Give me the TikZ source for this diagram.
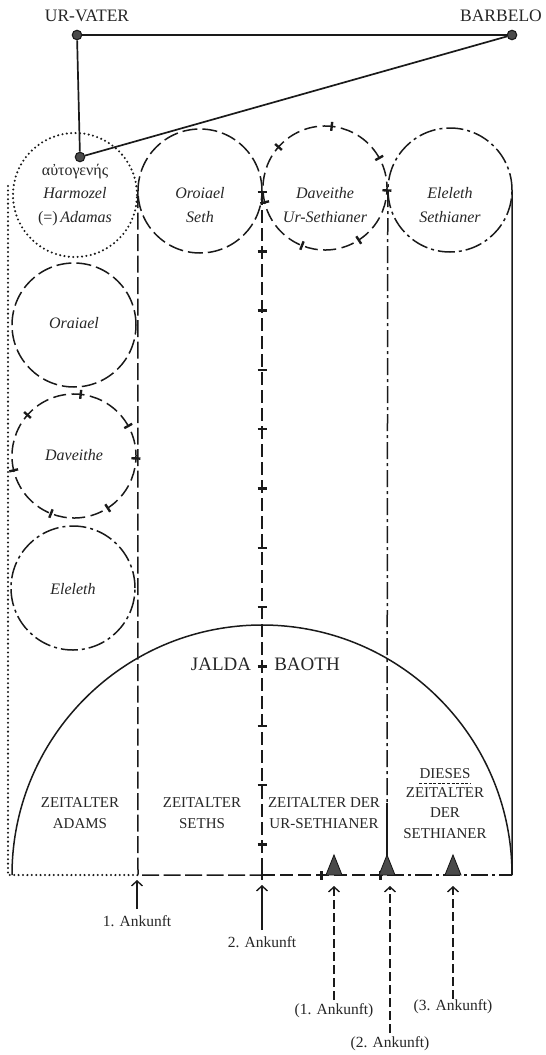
\documentclass[tikz,border=0pt]{standalone}
\usepackage{fontspec}
\setmainfont{Liberation Serif}
\usetikzlibrary{decorations.markings,arrows.meta}
\definecolor{ink}{HTML}{1A1A1A}
\definecolor{txt}{HTML}{262626}
\definecolor{knotfill}{HTML}{4A4A4A}
\begin{document}
\begin{tikzpicture}[x=1pt,y=-1pt,
  every node/.style={text=txt, inner sep=0pt},
  lnbase/.style={draw=ink, line width=1.5pt},
  dotsty/.style={lnbase, line width=2.3pt, line cap=round, dash pattern=on 0pt off 4.4pt},
  sethsty/.style={lnbase, dash pattern=on 17pt off 4.5pt},
  sethcirc/.style={lnbase, dash pattern=on 15pt off 5pt},
  tickmarks/.style={postaction={decorate}, decoration={markings, mark=between positions 0 and 1 step 59.3pt with {\draw[ink, solid, line width=2.4pt] (0pt,-4.5pt) -- (0pt,4.5pt);}}},
  ursty/.style={lnbase, dash pattern=on 13pt off 5pt, tickmarks},
  urcirc/.style={lnbase, dash pattern=on 13pt off 5.5pt, tickmarks},
  ddsty/.style={lnbase, dash pattern=on 17pt off 4pt on 3pt off 4pt},
  knot/.style={circle, draw=ink, fill=knotfill, line width=1.1pt, minimum size=9.5pt},
  ring/.style={circle, minimum size=124pt},
  nmtext/.style={font=\fontsize{16}{23.5}\selectfont\itshape, align=center},
  toptext/.style={font=\fontsize{17.5}{20}\selectfont},
  agetext/.style={font=\fontsize{15}{20.5}\selectfont, align=center},
  bigtext/.style={font=\fontsize{19}{22}\selectfont},
  anktext/.style={font=\fontsize{15.5}{18}\selectfont},
  arr/.style={lnbase, line width=1.4pt, -{Straight Barb[length=5pt,width=11pt]}},
  darr/.style={arr, dash pattern=on 9pt off 4pt},
  tristy/.style={draw=ink, fill=knotfill, line width=0.9pt},
]
\useasboundingbox (0,0) rectangle (546,1055);

% top figures
\node[toptext] (uvl) at (87,16) {UR-VATER};
\node[toptext] (bbl) at (501,16) {BARBELO};
\node[knot] (uv) at (77,35) {};
\node[knot] (bb) at (512,35) {};
\node[knot] (ag) at (80,157) {};
\draw[lnbase, line width=1.7pt] (uv) -- (bb);
\draw[lnbase, line width=1.7pt] (uv) -- (ag);
\draw[lnbase, line width=1.7pt] (bb) -- (ag);

% ring nodes
\node[ring] (c1) at (75,195) {};
\node[ring] (c2) at (200,191) {};
\node[ring] (c3) at (325,188) {};
\node[ring] (c4) at (450,190) {};
\node[ring] (c5) at (74,325) {};
\node[ring] (c6) at (74,456) {};
\node[ring] (c7) at (73,588) {};

% circles
\draw[dotsty] (c1.center) circle[radius=62pt];
\draw[sethcirc] (c2.center) circle[radius=62pt];
\draw[urcirc] ([shift={(29:62pt)}]c3.center) arc[start angle=29, end angle=389, radius=62pt];
\draw[ddsty] (c4.center) circle[radius=62pt];
\draw[sethcirc] (c5.center) circle[radius=62pt];
\draw[urcirc] ([shift={(29:62pt)}]c6.center) arc[start angle=29, end angle=389, radius=62pt];
\draw[ddsty] (c7.center) circle[radius=62pt];

% circle texts
\node[nmtext] (t1) at (75,195) {{\upshape αὐτογενής}\\Harmozel\\{\upshape(=)}\,Adamas};
\node[nmtext] (t2) at (200,205) {Oroiael\\Seth};
\node[nmtext] (t3) at (325,205) {Daveithe\\Ur-Sethianer};
\node[nmtext] (t4) at (450,205) {Eleleth\\Sethianer};
\node[nmtext] (t5) at (74,323) {Oraiael};
\node[nmtext] (t6) at (74,455) {Daveithe};
\node[nmtext] (t7) at (73,589) {Eleleth};

% column lines
\coordinate (dA) at (8,186);
\coordinate (dB) at (8,875);
\coordinate (sB) at (138,875);
\coordinate (mT) at (262,192);
\coordinate (mB) at (262,875);
\coordinate (uS) at (387,803);
\coordinate (uB) at (387,875);
\coordinate (rB) at (512,875);

\draw[dotsty] (dA) -- (dB) -- (sB);
\draw[sethsty] (c2.west) -- (sB) -- (mB);
\draw[ursty] (mT) -- (mB);
\draw[ursty] (mB) -- (uB);
\draw[ddsty] (c4.west) -- (uS);
\draw[lnbase] (uS) -- (uB);
\draw[ddsty] (uB) -- (rB);
\draw[lnbase] (c4.east) -- (rB);

% Jaldabaoth arc
\draw[lnbase] (12,875) arc[start angle=180, end angle=0, radius=250pt];
\node[bigtext] (jal) at (221,664) {JALDA};
\node[bigtext] (bao) at (307,664) {BAOTH};

% ages
\node[agetext] (z1) at (80,813) {ZEITALTER\\ADAMS};
\node[agetext] (z2) at (202,813) {ZEITALTER\\SETHS};
\node[agetext] (z3) at (324,813) {ZEITALTER DER\\UR-SETHIANER};
\node[agetext] (z4) at (445,813) {ZEITALTER\\DER\\SETHIANER};
\node[agetext] (dies) at (445,774) {DIESES};
\draw[ink, line width=1.1pt, dash pattern=on 3pt off 1.6pt] ([yshift=-4pt]dies.south west) -- ([yshift=-4pt]dies.south east);

% triangles
\coordinate (tr1) at (334,875);
\coordinate (tr2) at (387,875);
\coordinate (tr3) at (453,875);
\foreach \t in {tr1,tr2,tr3}{
  \draw[tristy] ([xshift=-8pt]\t) -- ([yshift=20pt]\t) -- ([xshift=8pt]\t) -- cycle;
}

% arrivals
\node[anktext] (l1) at (137,921) {1. Ankunft};
\node[anktext] (l2) at (262,942) {2. Ankunft};
\node[anktext] (l3) at (334,1011) {(1. Ankunft)};
\node[anktext] (l4) at (390,1044) {(2. Ankunft)};
\node[anktext] (l5) at (453,1007) {(3. Ankunft)};
\coordinate (a1s) at (137,909); \coordinate (a1e) at (137,880);
\coordinate (a2s) at (262,930); \coordinate (a2e) at (262,885);
\coordinate (a3s) at (334,1000); \coordinate (a3e) at (334,886);
\coordinate (a4s) at (390,1033); \coordinate (a4e) at (390,886);
\coordinate (a5s) at (453,999); \coordinate (a5e) at (453,886);
\draw[arr] (a1s) -- (a1e);
\draw[arr] (a2s) -- (a2e);
\draw[darr] (a3s) -- (a3e);
\draw[darr] (a4s) -- (a4e);
\draw[darr] (a5s) -- (a5e);
\end{tikzpicture}
\end{document}
